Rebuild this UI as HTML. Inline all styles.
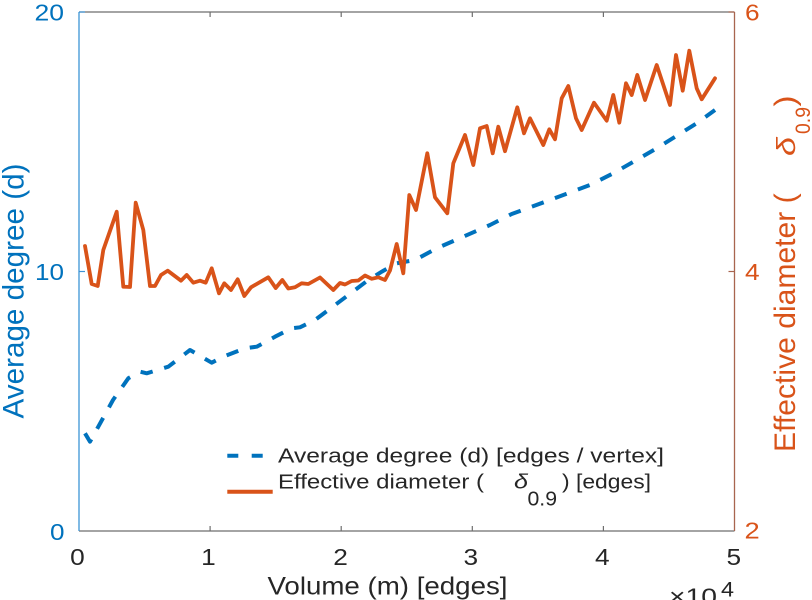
<!DOCTYPE html>
<html><head><meta charset="utf-8"><style>
html,body{margin:0;padding:0;background:#fff;}
svg{display:block;}
text{font-family:"Liberation Sans",Arial,sans-serif;}
</style></head><body>
<svg width="812" height="600" viewBox="0 0 812 600" xmlns="http://www.w3.org/2000/svg">
<rect width="812" height="600" fill="#fff"/>
<!-- axes box -->
<line x1="79" y1="12" x2="734.5" y2="12" stroke="#6e6e6e" stroke-width="1.3"/>
<line x1="79" y1="531" x2="734.5" y2="531" stroke="#6e6e6e" stroke-width="1.3"/>
<line x1="79" y1="12" x2="79" y2="531" stroke="#3d94d6" stroke-width="1.3"/>
<line x1="734.5" y1="12" x2="734.5" y2="531" stroke="#a8654f" stroke-width="1.3"/>
<!-- x ticks -->
<g stroke="#6e6e6e" stroke-width="1.2">
<line x1="210.1" y1="531" x2="210.1" y2="526"/><line x1="341.2" y1="531" x2="341.2" y2="526"/>
<line x1="472.3" y1="531" x2="472.3" y2="526"/><line x1="603.4" y1="531" x2="603.4" y2="526"/>
<line x1="210.1" y1="12" x2="210.1" y2="17"/><line x1="341.2" y1="12" x2="341.2" y2="17"/>
<line x1="472.3" y1="12" x2="472.3" y2="17"/><line x1="603.4" y1="12" x2="603.4" y2="17"/>
</g>
<line x1="79" y1="271.5" x2="85" y2="271.5" stroke="#3d94d6" stroke-width="1.2"/>
<line x1="734.5" y1="271.5" x2="728.5" y2="271.5" stroke="#a8654f" stroke-width="1.2"/>
<line x1="79" y1="12" x2="85" y2="12" stroke="#3d94d6" stroke-width="1.2"/>
<line x1="734.5" y1="12" x2="728.5" y2="12" stroke="#a8654f" stroke-width="1.2"/>

<!-- blue dashed series -->
<polyline fill="none" stroke="#0072BD" stroke-width="4" stroke-dasharray="12.5 12" stroke-linejoin="round"
points="85,433.3 90,441.7 113,400 128.3,378.3 140,371.7 146.7,373.3 168.3,366.7 190,350 211.7,362.7 223.3,356.7 245,348.3 256.7,346.7 275,336.7 291.7,328.3 300,327.3 315,320 335,305 355,290 368.3,280 381.7,271.7 396.7,263.3 415,260 436.7,248.3 463.3,236.7 490,225 511.7,214 550,200 590,185 613.3,173.3 656.7,148.3 696.7,123.3 715,110"/>

<!-- orange series -->
<polyline fill="none" stroke="#D95319" stroke-width="3.8" stroke-linejoin="round" stroke-linecap="round"
points="85,246 91.7,284 97.7,286 103.3,250 116.7,211.7 123.3,286.7 130,287 135.7,202.7 143.3,230 150,286 155,286 161,275 167.7,270.7 181,280.7 186.7,275 193.3,282.7 200,280.7 205.7,282.7 211.7,268.3 219,293.3 224.3,283.3 231,290 237.7,279.3 244.3,296 251,287.3 268.3,277.3 275.7,288 282.3,280 288.3,288.5 295,287.3 301.7,283.3 308.3,284 320,277.5 333.3,290 340,283 345,284.5 351.7,281 358.3,280.5 365,275.5 371.7,278.8 378.3,277.3 385,280 390,270.5 396.7,244 403.3,273.3 409.3,195 416,210 427.3,153.3 435,197.3 447.3,213.3 453.3,163.3 465,135 473.3,165 480,128.3 486.7,126 492.7,153.3 498.3,126.7 505,151.2 517.3,107.3 524,133.3 530,118.3 543.3,145 549.3,129.3 555,139.3 561.7,98.3 568.3,86 576,118.3 581.7,130 594,102.7 606.7,120.7 613.3,95 619.3,122.7 626,83.3 631.7,95 637.3,75 645,100 656.7,65 670,105 676,55 682.7,90.7 689.3,50.7 696.7,88.3 701.7,99.3 715,78.3"/>

<!-- left tick labels -->
<g fill="#0072BD" font-size="23">
<text x="34.5" y="20.7" textLength="29.5" lengthAdjust="spacingAndGlyphs">20</text>
<text x="35" y="280" textLength="29" lengthAdjust="spacingAndGlyphs">10</text>
<text x="50" y="540" textLength="14.5" lengthAdjust="spacingAndGlyphs">0</text>
</g>
<!-- right tick labels -->
<g fill="#D95319" font-size="23">
<text x="745" y="20.7" textLength="14.6" lengthAdjust="spacingAndGlyphs">6</text>
<text x="745" y="280" textLength="14.6" lengthAdjust="spacingAndGlyphs">4</text>
<text x="744.5" y="538.5" textLength="15.2" lengthAdjust="spacingAndGlyphs">2</text>
</g>
<!-- x tick labels -->
<g fill="#262626" font-size="23">
<text x="70.2" y="565" textLength="14.6" lengthAdjust="spacingAndGlyphs">0</text>
<text x="201.2" y="565" textLength="14.6" lengthAdjust="spacingAndGlyphs">1</text>
<text x="333.3" y="565" textLength="14.6" lengthAdjust="spacingAndGlyphs">2</text>
<text x="463.5" y="565" textLength="14.6" lengthAdjust="spacingAndGlyphs">3</text>
<text x="595" y="565" textLength="14.6" lengthAdjust="spacingAndGlyphs">4</text>
<text x="726.5" y="565" textLength="14.6" lengthAdjust="spacingAndGlyphs">5</text>
</g>

<!-- x label -->
<text x="267.5" y="594.7" font-size="25" fill="#262626" textLength="240" lengthAdjust="spacingAndGlyphs">Volume (m) [edges]</text>
<text x="669" y="604.5" font-size="23" fill="#262626" textLength="48" lengthAdjust="spacingAndGlyphs">×10</text>
<text x="721" y="596.7" font-size="21" fill="#262626" textLength="13" lengthAdjust="spacingAndGlyphs">4</text>

<!-- left y label -->
<text transform="translate(23.3,418.5) rotate(-90)" font-size="29.6" fill="#0072BD" textLength="255" lengthAdjust="spacingAndGlyphs">Average degree (d)</text>

<!-- right y label -->
<g fill="#D95319">
<text transform="translate(795,452) rotate(-90)" font-size="29.6" textLength="258.7" lengthAdjust="spacingAndGlyphs">Effective diameter (</text>
<text transform="translate(795,156) rotate(-90)" font-size="26" font-style="italic" textLength="19" lengthAdjust="spacingAndGlyphs">δ</text>
<text transform="translate(810,134) rotate(-90)" font-size="21" textLength="27" lengthAdjust="spacingAndGlyphs">0.9</text>
<text transform="translate(795,106.5) rotate(-90)" font-size="29.6" textLength="11" lengthAdjust="spacingAndGlyphs">)</text>
</g>

<!-- legend -->
<line x1="227.3" y1="455.7" x2="262.7" y2="455.7" stroke="#0072BD" stroke-width="4" stroke-dasharray="11 13.4"/>
<line x1="227.3" y1="491.7" x2="272.7" y2="491.7" stroke="#D95319" stroke-width="4"/>
<g fill="#262626" font-size="20">
<text x="278" y="462.7" textLength="386" lengthAdjust="spacingAndGlyphs">Average degree (d) [edges / vertex]</text>
<text x="278" y="488.7" textLength="206" lengthAdjust="spacingAndGlyphs">Effective diameter (</text>
<text x="514" y="488.7" font-style="italic" textLength="14" lengthAdjust="spacingAndGlyphs">δ</text>
<text x="527.5" y="505.5" textLength="29.5" lengthAdjust="spacingAndGlyphs">0.9</text>
<text x="562" y="488.7" textLength="89" lengthAdjust="spacingAndGlyphs">) [edges]</text>
</g>
</svg>
</body></html>
